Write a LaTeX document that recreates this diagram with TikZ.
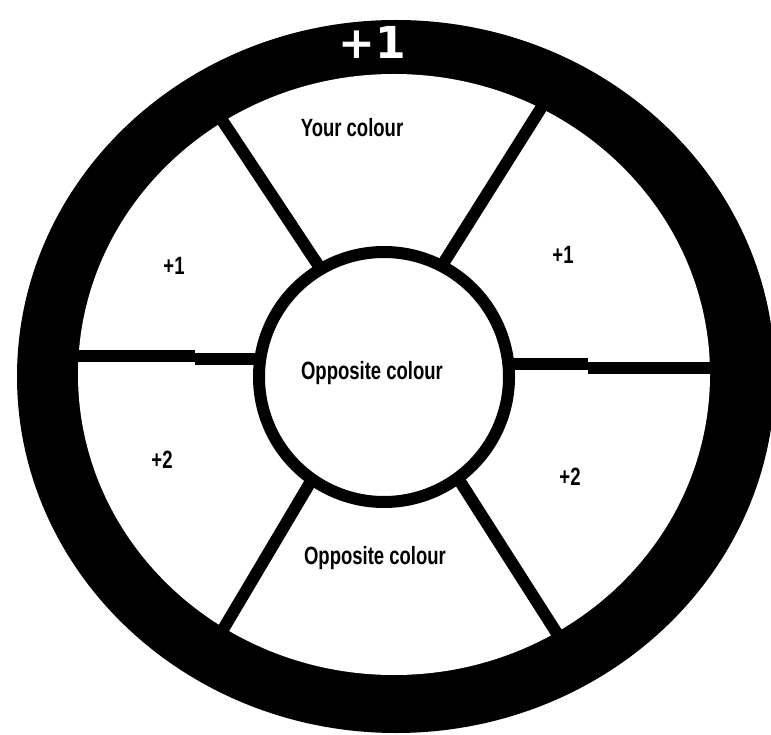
\documentclass[tikz,border=0pt]{standalone}
\usepackage{fontspec}
\newfontfamily\lblfont[FakeStretch=0.74]{Liberation Sans}
\newfontfamily\topfont{DejaVu Sans}
\begin{document}
\begin{tikzpicture}[x=1pt,y=-1pt,
  lbl/.style={font=\lblfont\bfseries\fontsize{25}{27}\selectfont, text=black, inner sep=0pt},
  toplbl/.style={font=\topfont\bfseries\fontsize{44}{46}\selectfont, text=white, inner sep=0pt},
  spoke/.style={draw=black, line width=12pt},
  hubstyle/.style={circle, draw=black, fill=white, line width=12pt, minimum size=250pt, inner sep=0pt}]
\useasboundingbox (0,0) rectangle (771,735);
\fill[white] (0,0) rectangle (771,735);
% ring
\fill[black] (396,376.5) ellipse [x radius=379pt, y radius=356.5pt];
\fill[white] (394,374.5) ellipse [x radius=316pt, y radius=300.5pt];
% spoke coordinates
\coordinate (ctr) at (384,377);
\coordinate (ulo) at (214,108);
\coordinate (uli) at (326,277);
\coordinate (uro) at (548,97);
\coordinate (uri) at (436,275);
\coordinate (llo) at (215,643);
\coordinate (lli) at (320,466);
\coordinate (lro) at (565,646);
\coordinate (lri) at (447,461);
\coordinate (lo) at (65,356);
\coordinate (lm1) at (195,356);
\coordinate (lm2) at (195,359);
\coordinate (li) at (270,359);
\coordinate (ro) at (722,367.5);
\coordinate (rm1) at (588,367.5);
\coordinate (rm2) at (588,364);
\coordinate (ri) at (500,364);
\draw[spoke] (ulo) -- (uli);
\draw[spoke] (uro) -- (uri);
\draw[spoke] (llo) -- (lli);
\draw[spoke] (lro) -- (lri);
\draw[spoke] (lo) -- (lm1);
\draw[spoke] (lm2) -- (li);
\draw[spoke] (ro) -- (rm1);
\draw[spoke] (rm2) -- (ri);
% hub
\node[hubstyle] (hub) at (ctr) {};
% labels
\node[toplbl] (top) at (372,42) {+1};
\node[lbl] (your) at (352,128) {Your colour};
\node[lbl] (p1l) at (174,266) {+1};
\node[lbl] (p1r) at (563,255) {+1};
\node[lbl] (opc) at (372,373) {Opposite colour};
\node[lbl] (p2l) at (162,460) {+2};
\node[lbl] (p2r) at (570,477) {+2};
\node[lbl] (opb) at (375,558) {Opposite colour};
\end{tikzpicture}
\end{document}
